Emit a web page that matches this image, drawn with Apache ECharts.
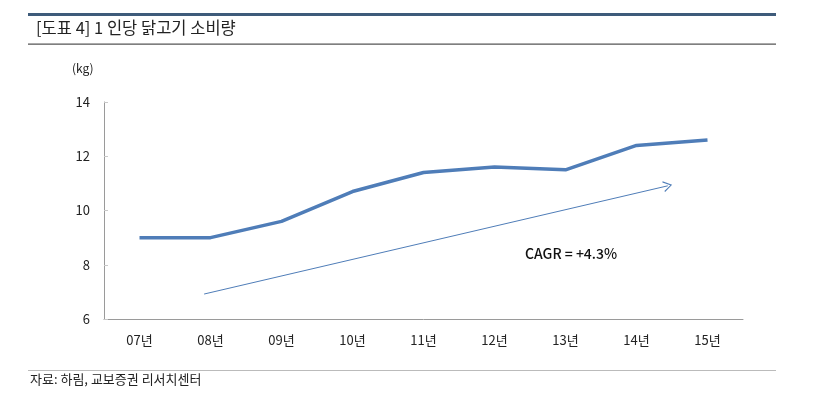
<!DOCTYPE html>
<html><head><meta charset="utf-8">
<script src="https://cdn.jsdelivr.net/npm/echarts@6/dist/echarts.min.js"></script>
<style>html,body{margin:0;padding:0;background:#fff;}#c{width:831px;height:405px;}</style>
</head><body><div id="c"></div>
<script>
const categories = ['07년','08년','09년','10년','11년','12년','13년','14년','15년'];
const consumption = [9.0, 9.0, 9.6, 10.7, 11.4, 11.6, 11.5, 12.4, 12.6];
const yTicks = { min: 6, max: 14, interval: 2 };
const trendStart = [0.91, 6.92];
const trendEnd = [7.44, 10.91];
const cagrLabel = 'CAGR = +4.3%';
const titleText = '[도표 4] 1 인당 닭고기 소비량';
const unitText = '(kg)';
const sourceText = '자료: 하림, 교보증권 리서치센터';

const font = '"Noto Sans CJK KR", "Noto Sans", sans-serif';
const chart = echarts.init(document.getElementById('c'));
chart.setOption({
  animation: false,
  backgroundColor: '#fff',
  grid: { left: 104, right: 88, top: 102, bottom: 86 },
  xAxis: [{
    type: 'category', data: categories, boundaryGap: true,
    axisLine: { lineStyle: { color: '#9a9a9a' } },
    axisTick: { inside: true, length: 4, lineStyle: { color: '#c8c8c8' } },
    axisLabel: { color: '#222', fontSize: 13, fontFamily: font, margin: 15 }
  }, {
    type: 'value', min: -0.5, max: 8.5, show: false
  }],
  yAxis: {
    type: 'value', min: yTicks.min, max: yTicks.max, interval: yTicks.interval,
    splitLine: { show: false },
    axisLine: { show: true, onZero: false, lineStyle: { color: '#9a9a9a' } },
    axisTick: { show: true, inside: true, length: 4, lineStyle: { color: '#c8c8c8' } },
    axisLabel: { color: '#222', fontSize: 13, fontFamily: font, margin: 14 }
  },
  series: [{
    type: 'line', data: consumption, xAxisIndex: 0,
    symbol: 'none', lineStyle: { color: '#4F7DB8', width: 3.5 }
  }, {
    type: 'line', data: [], xAxisIndex: 1,
    markLine: {
      silent: true, animation: false,
      symbol: ['none', 'path://M0,10 L5,0 L10,10 L9,10.6 L5,2.2 L1,10.6 Z'],
      symbolSize: [11, 9],
      label: { show: false },
      lineStyle: { color: '#4F7DB8', width: 1, type: 'solid' },
      data: [[{ coord: trendStart }, { coord: trendEnd }]]
    }
  }],
  graphic: [
    { type: 'rect', shape: { x: 28, y: 13, width: 748, height: 3 }, style: { fill: '#3e5b7a' } },
    { type: 'text', left: 36, top: 19, style: { text: titleText, font: '16.5px ' + font, fill: '#222' } },
    { type: 'rect', shape: { x: 28, y: 43.5, width: 748, height: 1.2 }, style: { fill: '#555' } },
    { type: 'text', left: 72, top: 62, style: { text: unitText, font: '12px ' + font, fill: '#222' } },
    { type: 'text', left: 525, top: 247, style: { text: cagrLabel, font: '500 14px ' + font, fill: '#111' } },
    { type: 'rect', shape: { x: 28, y: 370, width: 748, height: 1 }, style: { fill: '#bbb' } },
    { type: 'text', left: 30, top: 373, style: { text: sourceText, font: '13px ' + font, fill: '#222' } }
  ]
});
</script></body></html>
